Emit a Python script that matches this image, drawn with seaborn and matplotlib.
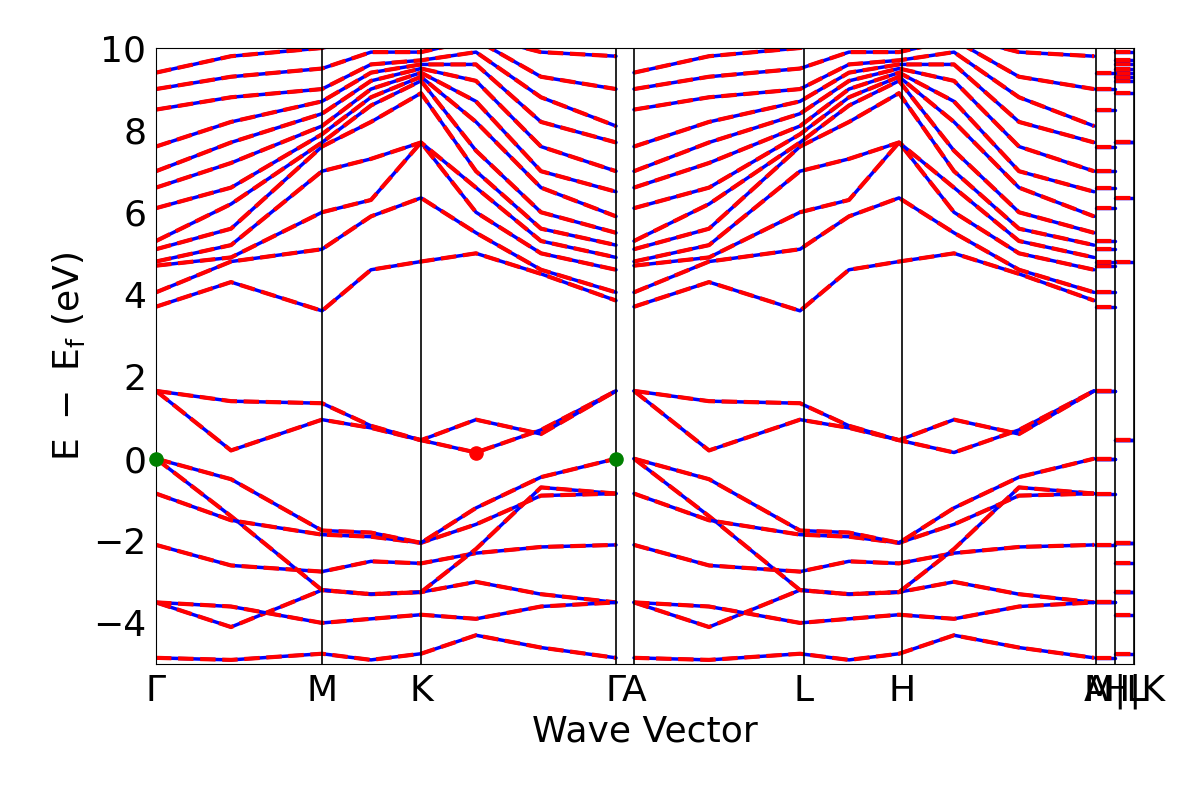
import numpy as np
import matplotlib
matplotlib.use("Agg")
import matplotlib.pyplot as plt
import seaborn as sns

sns.set_style("white")
plt.rcParams['font.family'] = ['DejaVu Sans']
plt.rcParams['text.color'] = 'black'
plt.rcParams['axes.labelcolor'] = 'black'
plt.rcParams['xtick.color'] = 'black'
plt.rcParams['ytick.color'] = 'black'
plt.rcParams['axes.edgecolor'] = 'black'

# sample k-positions along Γ-M-K-Γ (same shape repeated along A-L-H-A)
kpath = [0, 75, 166, 215, 265, 320, 385, 460]
shift = 478
tick_pos = [0, 166, 265, 460, 478, 648, 746, 940, 959, 978]
tick_lbl = ["Γ", "M", "K", "Γ", "A", "L", "H", "A", "M|L", "H|K"]

bands = [
    [-4.85, -4.9, -4.75, -4.9, -4.75, -4.3, -4.6, -4.85],
    [-3.5, -4.1, -3.2, -3.3, -3.25, -3.0, -3.3, -3.5],
    [-3.5, -3.6, -4.0, -3.9, -3.8, -3.9, -3.6, -3.5],
    [-2.1, -2.6, -2.75, -2.5, -2.55, -2.3, -2.15, -2.1],
    [0.0, -1.4, -3.2, -3.3, -3.25, -2.2, -0.7, -0.85],
    [-0.85, -1.5, -1.85, -1.9, -2.05, -1.6, -0.9, -0.85],
    [0.0, -0.5, -1.75, -1.8, -2.05, -1.2, -0.45, 0.0],
    [1.65, 0.2, 0.95, 0.75, 0.45, 0.15, 0.7, 1.65],
    [1.65, 1.4, 1.35, 0.8, 0.45, 0.95, 0.6, 1.65],
    [3.7, 4.3, 3.6, 4.6, 4.8, 5.0, 4.5, 3.85],
    [4.05, 4.8, 5.1, 5.9, 6.35, 5.5, 4.6, 4.05],
    [4.7, 4.9, 6.0, 6.3, 7.7, 6.0, 5.0, 4.6],
    [4.8, 5.2, 7.0, 7.3, 7.7, 6.6, 5.3, 4.9],
    [5.1, 5.6, 7.6, 8.2, 8.9, 7.0, 5.6, 5.2],
    [5.3, 6.2, 7.7, 8.6, 9.2, 7.5, 6.0, 5.5],
    [6.1, 6.6, 7.9, 8.8, 9.3, 8.2, 6.6, 5.9],
    [6.6, 7.2, 8.1, 9.0, 9.4, 8.7, 7.0, 6.5],
    [7.0, 7.7, 8.4, 9.2, 9.5, 9.2, 7.6, 7.0],
    [7.6, 8.2, 8.7, 9.4, 9.6, 9.6, 8.2, 7.7],
    [8.5, 8.8, 9.0, 9.6, 9.7, 9.9, 8.8, 8.1],
    [9.0, 9.3, 9.5, 9.9, 9.9, 10.2, 9.3, 9.0],
    [9.4, 9.8, 10.0, 10.2, 10.1, 10.3, 9.9, 9.8],
]

fig, ax = plt.subplots(figsize=(12, 8), dpi=100)
for b in bands:
    for off in (0, shift):
        x = [k + off for k in kpath]
        sns.lineplot(x=x, y=b, ax=ax, color="blue", lw=2.5, estimator=None, sort=False)
        sns.lineplot(x=x, y=b, ax=ax, color="red", lw=3, ls="--", estimator=None, sort=False)
    for x0, x1, v in ((940, 959, b[0]), (959, 978, b[4])):
        sns.lineplot(x=[x0, x1], y=[v, v], ax=ax, color="blue", lw=2.5, estimator=None)
        sns.lineplot(x=[x0, x1], y=[v, v], ax=ax, color="red", lw=3, ls="--", estimator=None)

for p in tick_pos:
    ax.axvline(p, color="black", lw=1.2)

ax.scatter([0, 460], [0, 0], color="green", s=90, zorder=5, clip_on=False)
ax.scatter([320], [0.15], color="red", s=90, zorder=5)

ax.set_xlim(0, 978)
ax.set_ylim(-5, 10)
ax.set_xticks(tick_pos)
ax.set_xticklabels(tick_lbl)
ax.tick_params(labelsize=26)
ax.set_xlabel("Wave Vector", fontsize=26)
ax.set_ylabel(r"$\mathrm{E\ -\ E_f}$ (eV)", fontsize=26)
plt.subplots_adjust(left=0.13, right=0.945, top=0.94, bottom=0.17)
fig.savefig("out.png")
